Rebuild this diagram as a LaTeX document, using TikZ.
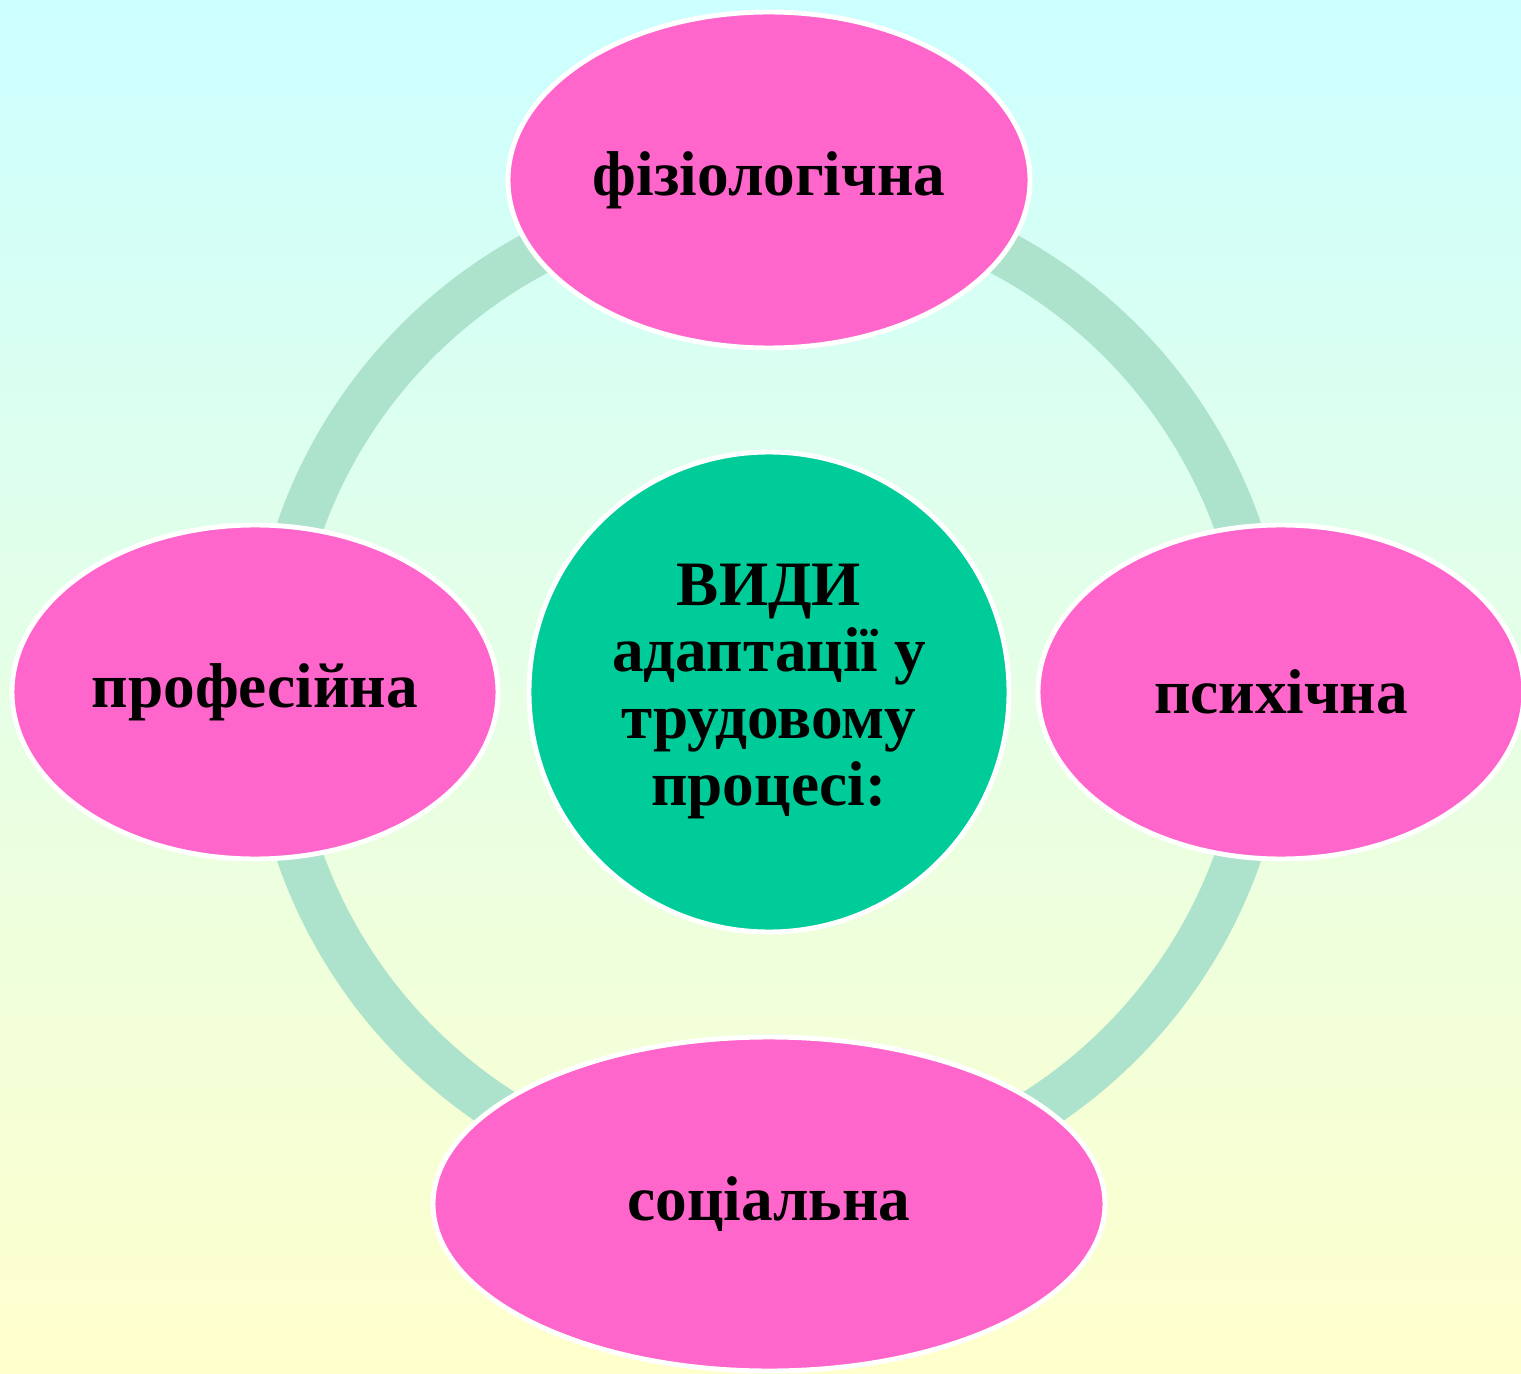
\documentclass[tikz,border=0pt]{standalone}
\usepackage{fontspec}
\setmainfont{Liberation Serif}
\usetikzlibrary{shapes.geometric}

\definecolor{petalpink}{HTML}{FF66CC}
\definecolor{hubgreen}{HTML}{00CC99}
\definecolor{ringgreen}{HTML}{ADE3CC}
\definecolor{skytop}{HTML}{CCFFFF}
\definecolor{sandbottom}{HTML}{FFFFCC}

\tikzset{
  petal/.style={ellipse, fill=petalpink, draw=white, line width=1.4pt,
    inner sep=0pt, font=\fontsize{18}{19}\selectfont\bfseries},
  hub/.style={circle, fill=hubgreen, draw=white, line width=1.4pt,
    minimum size=4.8cm, inner sep=0pt, align=center,
    font=\fontsize{18}{19}\selectfont\bfseries},
  ring/.style={draw=ringgreen, line width=0.46cm}
}

\begin{document}
\begin{tikzpicture}
      \useasboundingbox (0, 0) rectangle (15.21, 13.73);
      \clip (0, 0) rectangle (15.21, 13.73);
      \shade[top color=skytop, bottom color=sandbottom] (0, 0) rectangle (15.21, 13.73);

      \coordinate (mid) at (7.69, 6.81);
      \draw[ring] (mid) circle (4.97);

      \node[hub] (vydy) at (mid) {\raisebox{-0.06cm}{\begin{tabular}{@{}c@{}}ВИДИ\\адаптації у\\трудовому\\процесі:\end{tabular}}};

      \node[petal, minimum width=5.22cm, minimum height=3.36cm] (fiz) at (7.69, 11.93) {фізіологічна};
      \node[petal, minimum width=4.86cm, minimum height=3.34cm] (psy) at (12.81, 6.81) {психічна};
      \node[petal, minimum width=6.72cm, minimum height=3.34cm] (soc) at (7.69, 1.69) {соціальна};
      \node[petal, minimum width=4.86cm, minimum height=3.34cm] (prof) at (2.55, 6.81) {професійна};
    \end{tikzpicture}
\end{document}
